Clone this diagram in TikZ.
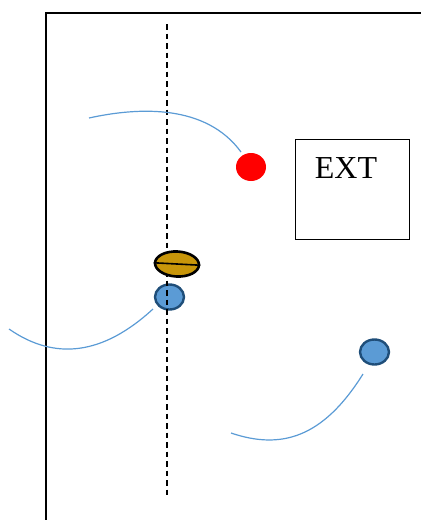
\documentclass[tikz,border=0pt]{standalone}
\usepackage{fontspec}
\setmainfont{Liberation Serif}
\usetikzlibrary{shapes.geometric}

\definecolor{runblue}{RGB}{91,155,213}
\definecolor{playerblue}{RGB}{91,155,213}
\definecolor{playeredge}{RGB}{31,78,121}
\definecolor{ballgold}{RGB}{200,150,10}

\begin{document}
\begin{tikzpicture}[
    x=0.5pt, y=-0.5pt,
    player/.style={ellipse, draw=playeredge, line width=1.2pt, fill=playerblue, minimum width=14.5pt, minimum height=12.5pt, inner sep=0pt},
    opponent/.style={ellipse, fill=red, minimum width=15pt, minimum height=14pt, inner sep=0pt},
    ball/.style={ellipse, draw, line width=1.3pt, fill=ballgold, minimum width=22pt, minimum height=12.5pt, inner sep=0pt},
    zone/.style={rectangle, draw, line width=0.5pt, minimum width=57pt, minimum height=50pt},
    run/.style={draw=runblue, line width=0.6pt},
    midline/.style={line width=0.75pt, dash pattern=on 2.75pt off 2pt}
]
\useasboundingbox (0,0) rectangle (421,520);

\draw[line width=1.4pt] (46,520) -- (46,13) -- (421,13);

\node[zone] (ext) at (352,189) {};
\node[font=\fontsize{16}{19}\selectfont] (extlabel) at (346,168) {EXT};

\node[opponent] (red) at (251,167) {};
\node[player] (back) at (169.5,297) {};
\node[player] (wing) at (374.5,352) {};

\draw[midline] (167,24) -- (167,496);

\node[ball, rotate=-3] (ball) at (177,264) {};
\draw[line width=0.8pt] (ball.west) -- (ball.east);

\coordinate (redstart) at (89,118);
\coordinate (redend) at (241,152);
\coordinate (backstart) at (9,329);
\coordinate (backend) at (153,309);
\coordinate (wingstart) at (231,433);
\coordinate (wingend) at (363,374);

\draw[run] (redstart) .. controls (139,107) and (206,104) .. (redend);
\draw[run] (backstart) .. controls (55,361) and (103,355) .. (backend);
\draw[run] (wingstart) .. controls (281,450) and (323,438) .. (wingend);

\end{tikzpicture}
\end{document}
